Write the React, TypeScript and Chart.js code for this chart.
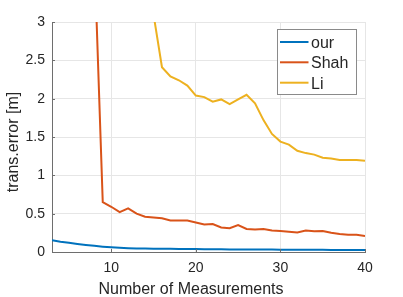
import React, { useEffect, useRef } from "react";
import { Chart, registerables } from "chart.js";

Chart.register(...registerables);

const xValues = [3, 4, 5, 6, 7, 8, 9, 10, 11, 12, 13, 14, 15, 16, 17, 18, 19, 20, 21, 22, 23, 24, 25, 26, 27, 28, 29, 30, 31, 32, 33, 34, 35, 36, 37, 38, 39, 40];

const ourValues = [0.155, 0.135, 0.12, 0.105, 0.092, 0.08, 0.07, 0.062, 0.055, 0.05, 0.047, 0.045, 0.043, 0.042, 0.041, 0.04, 0.039, 0.038, 0.037, 0.036, 0.035, 0.034, 0.034, 0.033, 0.032, 0.032, 0.031, 0.03, 0.03, 0.029, 0.029, 0.028, 0.028, 0.027, 0.027, 0.026, 0.026, 0.025];

const shahValues = [null, null, null, null, null, 3.9, 0.65, 0.59, 0.52, 0.57, 0.5, 0.46, 0.45, 0.44, 0.41, 0.41, 0.41, 0.385, 0.36, 0.365, 0.32, 0.31, 0.35, 0.3, 0.295, 0.3, 0.28, 0.275, 0.265, 0.255, 0.28, 0.27, 0.275, 0.25, 0.235, 0.225, 0.225, 0.21];

const liValues = [null, null, null, null, null, null, null, null, null, null, null, null, 3.1, 2.41, 2.29, 2.24, 2.17, 2.04, 2.02, 1.96, 1.99, 1.93, 1.99, 2.05, 1.94, 1.72, 1.54, 1.44, 1.4, 1.32, 1.29, 1.27, 1.23, 1.22, 1.2, 1.2, 1.2, 1.19];

const seriesNames = ["our", "Shah", "Li"];
const seriesColors = ["#0072BD", "#D95319", "#EDB120"];

const xTicks = [10, 20, 30, 40];
const yTicks = [0, 0.5, 1, 1.5, 2, 2.5, 3];

const xTitle = "Number of Measurements";
const yTitle = "trans.error [m]";

const FONT = "'Liberation Sans', Arial, Helvetica, sans-serif";
const TEXT = "#262626";

const overlayPlugin = {
  id: "matlabOverlay",
  afterDraw(chart: any) {
    const ctx = chart.ctx;
    const area = chart.chartArea;
    const xs = chart.scales.x;
    const ys = chart.scales.y;
    ctx.save();
    // inward ticks
    ctx.strokeStyle = "#6e6e6e";
    ctx.lineWidth = 1;
    ctx.beginPath();
    xTicks.forEach((v) => {
      const px = Math.round(xs.getPixelForValue(v)) + 0.5;
      ctx.moveTo(px, area.bottom);
      ctx.lineTo(px, area.bottom - 3);
    });
    yTicks.forEach((v) => {
      const py = Math.round(ys.getPixelForValue(v)) + 0.5;
      ctx.moveTo(area.left, py);
      ctx.lineTo(area.left + 3, py);
    });
    ctx.stroke();

    // axis titles
    ctx.fillStyle = TEXT;
    ctx.font = `16px ${FONT}`;
    ctx.textAlign = "center";
    ctx.textBaseline = "alphabetic";
    ctx.fillText(xTitle, 191, 294);
    ctx.save();
    ctx.translate(18, 142);
    ctx.rotate(-Math.PI / 2);
    ctx.fillText(yTitle, 0, 0);
    ctx.restore();

    // legend
    const lx = 277.5, ly = 29.5, lw = 79, lh = 65;
    ctx.fillStyle = "#ffffff";
    ctx.fillRect(lx, ly, lw, lh);
    ctx.strokeStyle = "#8a8a8a";
    ctx.lineWidth = 1;
    ctx.strokeRect(lx, ly, lw, lh);
    const rowsY = [42, 62.3, 82.7];
    chart.data.datasets.forEach((ds: any, i: number) => {
      const y = rowsY[i];
      ctx.strokeStyle = ds.borderColor;
      ctx.lineWidth = 2;
      ctx.beginPath();
      ctx.moveTo(280, y);
      ctx.lineTo(308.5, y);
      ctx.stroke();
      ctx.fillStyle = TEXT;
      ctx.font = `16px ${FONT}`;
      ctx.textAlign = "left";
      ctx.textBaseline = "alphabetic";
      ctx.fillText(ds.label, 311, y + 6);
    });
    ctx.restore();
  },
};

export default function App() {
  const ref = useRef<HTMLCanvasElement | null>(null);
  useEffect(() => {
    if (!ref.current) return;
    const allSeries = [ourValues, shahValues, liValues];
    const chart = new Chart(ref.current, {
      type: "line",
      data: {
        datasets: allSeries.map((vals, i) => ({
          label: seriesNames[i],
          data: xValues.map((x, j) => ({ x, y: vals[j] })),
          borderColor: seriesColors[i],
          backgroundColor: seriesColors[i],
          borderWidth: 2,
          pointRadius: 0,
          tension: 0,
          fill: false,
          clip: 0,
          spanGaps: false,
        })),
      },
      options: {
        responsive: false,
        animation: false,
        maintainAspectRatio: false,
        layout: { padding: { left: 0, right: 38, top: 22, bottom: 0 } },
        plugins: {
          legend: { display: false },
          tooltip: { enabled: false },
          title: { display: false },
        },
        scales: {
          x: {
            type: "linear",
            min: 3,
            max: 40,
            afterBuildTicks: (scale: any) => {
              scale.ticks = xTicks.map((v) => ({ value: v }));
            },
            afterFit: (scale: any) => {
              scale.height = 45;
            },
            grid: { color: "#e6e6e6", drawTicks: false, lineWidth: 1 },
            border: { color: "#6e6e6e", width: 1 },
            ticks: {
              padding: 8,
              color: TEXT,
              font: { family: FONT, size: 14 },
              maxRotation: 0,
            },
          },
          y: {
            type: "linear",
            min: 0,
            max: 3,
            afterBuildTicks: (scale: any) => {
              scale.ticks = yTicks.map((v) => ({ value: v }));
            },
            afterFit: (scale: any) => {
              scale.width = 52;
            },
            grid: { color: "#e6e6e6", drawTicks: false, lineWidth: 1 },
            border: { color: "#6e6e6e", width: 1 },
            ticks: {
              padding: 7,
              color: TEXT,
              font: { family: FONT, size: 14 },
              callback: (v: any) => String(v),
            },
          },
        },
      },
      plugins: [overlayPlugin],
    });
    return () => chart.destroy();
  }, []);
  return (
    <div style={{ position: "fixed", left: 0, top: 0, width: 403, height: 297, background: "#fff" }}>
      <canvas ref={ref} width={403} height={297} style={{ width: 403, height: 297, display: "block" }} />
    </div>
  );
}
